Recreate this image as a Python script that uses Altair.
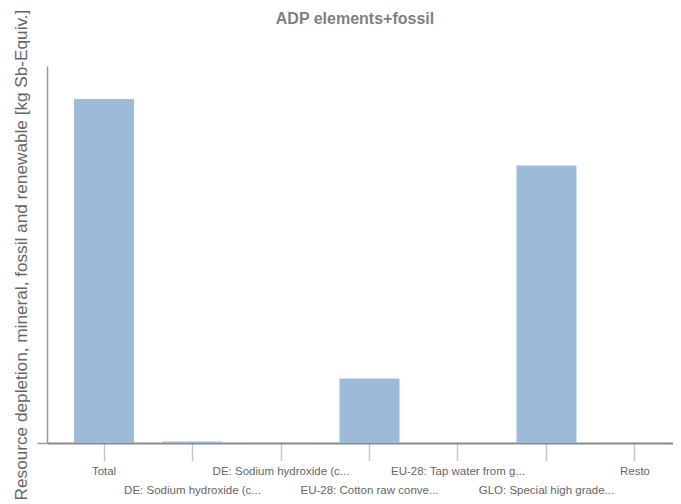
import altair as alt
import pandas as pd

categories = ["c0", "c1", "c2", "c3", "c4", "c5", "c6"]
labels = [
    "Total",
    "DE: Sodium hydroxide (c...",
    "DE: Sodium hydroxide (c...",
    "EU-28: Cotton raw conve...",
    "EU-28: Tap water from g...",
    "GLO: Special high grade...",
    "Resto",
]
values = [3.44, 0.015, 0.002, 0.645, 0.001, 2.775, 0.002]

df = pd.DataFrame({"key": categories, "label": labels, "value": values})

n = len(labels) - 1
label_arr = "[" + ",".join("'" + l.replace("'", "\\'") + "'" for l in labels) + "]"
label_expr = (
    f"round(datum.index*{n}) % 2 == 1 "
    f"? ['', {label_arr}[round(datum.index*{n})]] "
    f": {label_arr}[round(datum.index*{n})]"
)

font = "Liberation Sans, Arial, Helvetica, sans-serif"

chart = (
    alt.Chart(df)
    .mark_bar(color="#9dbad8")
    .encode(
        x=alt.X(
            "key:N",
            sort=categories,
            scale=alt.Scale(paddingInner=0.322, paddingOuter=0.198, align=0.771),
            axis=alt.Axis(
                title=None,
                labelExpr=label_expr,
                labelAngle=0,
                labelFont=font,
                labelFontSize=11.5,
                labelColor="#666666",
                labelLineHeight=19,
                labelPadding=4,
                labelLimit=400,
                tickSize=18,
                tickColor="#c8c8c8",
                tickWidth=1.5,
                domainColor="#8a8a8a",
                domainWidth=2,
                grid=False,
            ),
        ),
        y=alt.Y(
            "value:Q",
            scale=alt.Scale(domain=[0, 3.77], nice=False),
            axis=alt.Axis(
                title="Resource depletion, mineral, fossil and renewable [kg Sb-Equiv.]",
                titleFont=font,
                titleFontSize=17.2,
                titleFontWeight="normal",
                titleColor="#666666",
                titlePadding=6,
                titleLimit=700,
                labels=False,
                values=[0],
                tickSize=10,
                tickColor="#999999",
                tickWidth=1.5,
                domainColor="#9a9a9a",
                domainWidth=1.5,
                grid=False,
            ),
        ),
    )
    .properties(
        width=626,
        height=377,
        autosize=alt.AutoSizeParams(type="none"),
        padding={"left": 39, "top": 58, "right": 0, "bottom": 61},
        title=alt.Title(
            "ADP elements+fossil",
            font=font,
            fontSize=16,
            fontWeight="bold",
            color="#7f7f7f",
            anchor="middle",
            frame="group",
            offset=0,
            dx=-5,
            dy=18,
        ),
    )
    .configure_view(stroke=None)
)

chart.save("out.html", embed_options={"renderer": "svg", "actions": False})
